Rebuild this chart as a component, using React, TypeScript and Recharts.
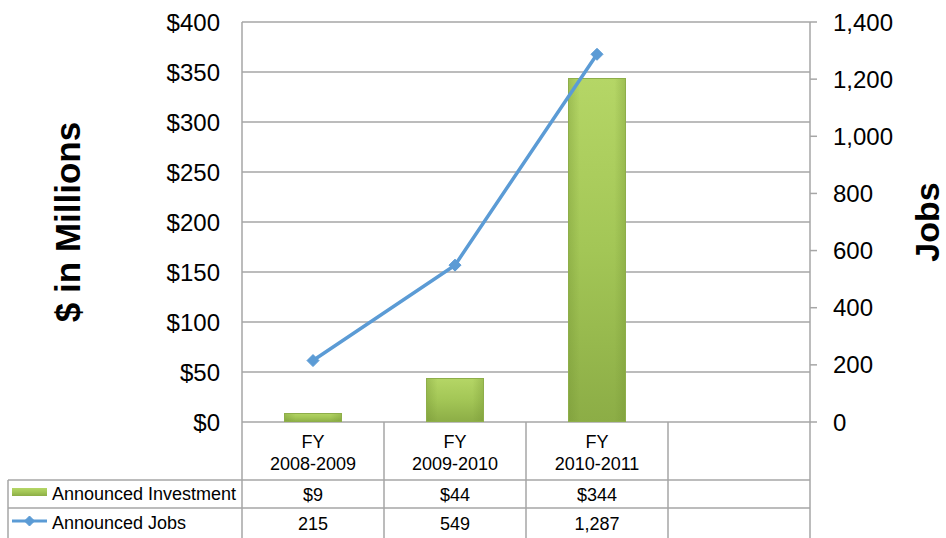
import React from 'react';
import { ComposedChart, Bar, Line, XAxis, YAxis, CartesianGrid } from 'recharts';

const fyLabels = ['FY', 'FY', 'FY', ''];
const yearLabels = ['2008-2009', '2009-2010', '2010-2011', ''];
const investment: (number | null)[] = [9, 44, 344, null];
const jobs: (number | null)[] = [215, 549, 1287, null];
const leftTicks = [0, 50, 100, 150, 200, 250, 300, 350, 400];
const rightTicks = [0, 200, 400, 600, 800, 1000, 1200, 1400];
const seriesNames = ['Announced Investment', 'Announced Jobs'];
const titles = { left: '$ in Millions', right: 'Jobs' };

const data = yearLabels.map((y, i) => ({
  key: `c${i}`,
  fy: fyLabels[i],
  year: y,
  investment: investment[i],
  jobs: jobs[i],
}));

const W = 946;
const H = 538;
const LEFT_W = 242;
const RIGHT_W = 136;
const TOP = 22;
const XAXIS_H = 116;
const CELL = (W - LEFT_W - RIGHT_W) / data.length;
const FONT = "'Liberation Sans', Arial, Helvetica, sans-serif";
const GRID = '#a6a6a6';
const LINE = '#5b9bd5';

const fmtMoney = (v: number | null) => (v == null ? '' : `$${v}`);
const fmtNum = (v: number | null) => (v == null ? '' : v.toLocaleString('en-US'));

const Diamond = ({ cx, cy, r = 6 }: { cx: number; cy: number; r?: number }) => (
  <path d={`M${cx},${cy - r} L${cx + r},${cy} L${cx},${cy + r} L${cx - r},${cy} Z`} fill={LINE} stroke={LINE} strokeWidth={1} />
);

const LineDot = (props: any) => {
  const { cx, cy, index } = props;
  if (cx == null || cy == null || props.value == null) return <g key={`d${index}`} />;
  return <Diamond key={`d${index}`} cx={cx} cy={cy} />;
};

const BarShape = (props: any) => {
  const { x, y, width, height } = props;
  if (!height || height <= 0) return <g />;
  return (
    <g>
      <rect x={x} y={y} width={width} height={height} fill="url(#barV)" />
      <rect x={x} y={y} width={width} height={height} fill="url(#barH)" />
      <rect x={x + 0.5} y={y + 0.5} width={width - 1} height={height - 1} fill="none" stroke="#8eae4a" strokeWidth={1} />
    </g>
  );
};

const TableTick = (props: any) => {
  const { x, y, index } = props;
  const d = data[index];
  if (!d) return <g />;
  const l = x - CELL / 2;
  const r = x + CELL / 2;
  const r1 = y + 58;
  const r2 = y + 86;
  const bottom = H;
  const ts = { fontFamily: FONT, fontSize: 18, fill: '#000' } as const;
  return (
    <g>
      <line x1={l} y1={y} x2={l} y2={bottom} stroke={GRID} strokeWidth={1.5} />
      {index === data.length - 1 && <line x1={r} y1={y} x2={r} y2={bottom} stroke={GRID} strokeWidth={1.5} />}
      <line x1={l} y1={r1} x2={r} y2={r1} stroke={GRID} strokeWidth={1.5} />
      <line x1={l} y1={r2} x2={r} y2={r2} stroke={GRID} strokeWidth={1.5} />
      <text x={x} y={y + 20} textAnchor="middle" dominantBaseline="central" {...ts}>{d.fy}</text>
      <text x={x} y={y + 41.5} textAnchor="middle" dominantBaseline="central" {...ts}>{d.year}</text>
      <text x={x} y={y + 72.5} textAnchor="middle" dominantBaseline="central" {...ts}>{fmtMoney(d.investment)}</text>
      <text x={x} y={y + 101.5} textAnchor="middle" dominantBaseline="central" {...ts}>{fmtNum(d.jobs)}</text>
      {index === 0 && (
        <g>
          <line x1={8} y1={r1} x2={l} y2={r1} stroke={GRID} strokeWidth={1.5} />
          <line x1={8} y1={r2} x2={l} y2={r2} stroke={GRID} strokeWidth={1.5} />
          <line x1={8} y1={r1} x2={8} y2={bottom} stroke={GRID} strokeWidth={1.5} />
          <rect x={12} y={y + 66} width={35} height={8} fill="url(#barV)" />
          <line x1={12} y1={y + 99} x2={47} y2={y + 99} stroke={LINE} strokeWidth={3} />
          <Diamond cx={29.5} cy={y + 99} r={5} />
          <text x={52} y={y + 72} dominantBaseline="central" {...ts}>{seriesNames[0]}</text>
          <text x={52} y={y + 100.5} dominantBaseline="central" {...ts}>{seriesNames[1]}</text>
        </g>
      )}
    </g>
  );
};

const LeftTitle = (props: any) => {
  const vb = props.viewBox || {};
  const cx = 67;
  const cy = (vb.y ?? TOP) + (vb.height ?? 400) / 2;
  return (
    <text x={cx} y={cy} transform={`rotate(-90 ${cx} ${cy})`} textAnchor="middle" dominantBaseline="central"
      fontFamily={FONT} fontSize={35} fontWeight="bold" fill="#000">{titles.left}</text>
  );
};

const RightTitle = (props: any) => {
  const vb = props.viewBox || {};
  const cx = 927;
  const cy = (vb.y ?? TOP) + (vb.height ?? 400) / 2;
  return (
    <text x={cx} y={cy} transform={`rotate(-90 ${cx} ${cy})`} textAnchor="middle" dominantBaseline="central"
      fontFamily={FONT} fontSize={34} fontWeight="bold" fill="#000">{titles.right}</text>
  );
};

export default function App() {
  return (
    <div style={{ position: 'absolute', left: 0, top: 0, width: W, height: H, background: '#fff' }}>
      <ComposedChart width={W} height={H} data={data} margin={{ top: TOP, right: 0, bottom: 0, left: 0 }}>
        <defs>
          <linearGradient id="barV" x1="0" y1="0" x2="0" y2="1">
            <stop offset="0%" stopColor="#b5d666" />
            <stop offset="50%" stopColor="#a3c656" />
            <stop offset="100%" stopColor="#8cad46" />
          </linearGradient>
          <linearGradient id="barH" x1="0" y1="0" x2="1" y2="0">
            <stop offset="0%" stopColor="#6f8f30" stopOpacity={0.35} />
            <stop offset="20%" stopColor="#6f8f30" stopOpacity={0} />
            <stop offset="80%" stopColor="#6f8f30" stopOpacity={0} />
            <stop offset="100%" stopColor="#6f8f30" stopOpacity={0.35} />
          </linearGradient>
        </defs>
        <CartesianGrid yAxisId="left" vertical={false} stroke={GRID} strokeWidth={1.5} />
        <XAxis dataKey="key" height={XAXIS_H} axisLine={false} tickLine={false} tickSize={0} tickMargin={0}
          interval={0} tick={<TableTick />} />
        <YAxis yAxisId="left" orientation="left" width={LEFT_W} domain={[0, 400]} ticks={leftTicks}
          tickFormatter={(v: number) => `$${v}`} axisLine={{ stroke: GRID, strokeWidth: 1.5 }} tickLine={false}
          tickSize={0} tickMargin={22} tick={{ fontFamily: FONT, fontSize: 24, fill: '#000' }}
          label={<LeftTitle />} />
        <YAxis yAxisId="right" orientation="right" width={RIGHT_W} domain={[0, 1400]} ticks={rightTicks}
          tickFormatter={(v: number) => v.toLocaleString('en-US')} axisLine={{ stroke: GRID, strokeWidth: 1.5 }}
          tickLine={{ stroke: GRID, strokeWidth: 1.5 }} tickSize={7} tickMargin={16}
          tick={{ fontFamily: FONT, fontSize: 24, fill: '#000' }} label={<RightTitle />} />
        <Bar yAxisId="left" dataKey="investment" barSize={58} shape={<BarShape />} isAnimationActive={false} />
        <Line yAxisId="right" dataKey="jobs" stroke={LINE} strokeWidth={3.5} dot={<LineDot />} activeDot={false}
          isAnimationActive={false} />
      </ComposedChart>
    </div>
  );
}
